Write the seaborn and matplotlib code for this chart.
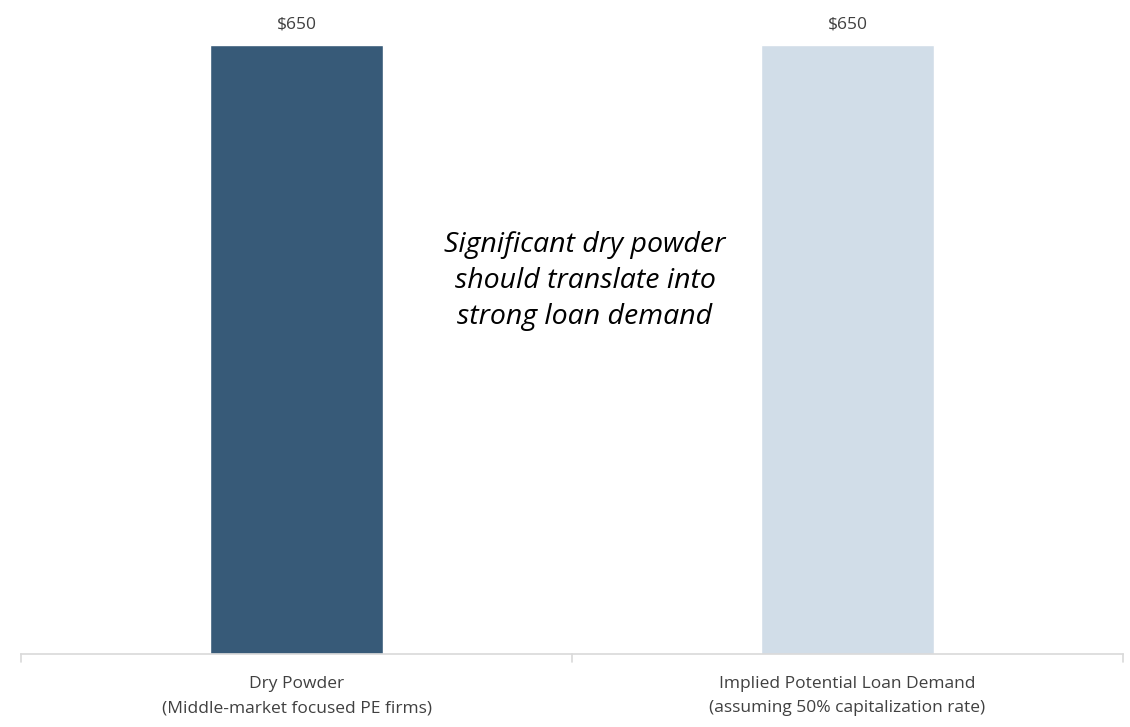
import matplotlib
matplotlib.use("Agg")
import matplotlib.pyplot as plt
import seaborn as sns
import pandas as pd

categories = ["Dry Powder\n(Middle-market focused PE firms)",
              "Implied Potential Loan Demand\n(assuming 50% capitalization rate)"]
values = [650, 650]
bar_colors = ["#375a78", "#d1dde8"]
value_labels = ["$650", "$650"]
note = "Significant dry powder\nshould translate into\nstrong loan demand"

sns.set_style("white")
plt.rcParams['font.family'] = ['Open Sans', 'DejaVu Sans']

df = pd.DataFrame({"cat": categories, "val": values})

fig = plt.figure(figsize=(11.3, 7.27), dpi=100)
ax = fig.add_axes([21 / 1130, 73 / 727, 1102 / 1130, 644 / 727])
sns.barplot(data=df, x="cat", y="val", hue="cat", palette=bar_colors,
            width=0.314, legend=False, ax=ax, saturation=1)

ymax = 650 * 644 / 609
ax.set_ylim(0, ymax)
ax.set_xlim(-0.5, 1.5)
for s in ["top", "right", "left"]:
    ax.spines[s].set_visible(False)
ax.spines["bottom"].set_color("#d9d9d9")
ax.spines["bottom"].set_linewidth(1.2)
ax.set_yticks([])
ax.set_xlabel("")
ax.set_ylabel("")

ax.set_xticks([0, 1])
ax.set_xticklabels(categories, fontsize=12.5, color="#404040", linespacing=1.65)
ax.tick_params(axis="x", length=0, pad=16)
# tick marks at category borders
for xb in [-0.5, 0.5, 1.5]:
    ax.plot([xb, xb], [0, -ymax * 8 / 644], color="#d9d9d9",
            lw=1.2, clip_on=False)

for i, v in enumerate(values):
    ax.text(i, v + ymax * 12 / 644, value_labels[i], ha="center", va="bottom",
            fontsize=12.5, color="#404040")

ax.text((585 - 21) / 1102, 1 - (281 - 10) / 644, note, transform=ax.transAxes,
        ha="center", va="center", fontsize=20.5, style="italic", color="#000000",
        linespacing=1.37)

fig.savefig("out.png", dpi=100)
